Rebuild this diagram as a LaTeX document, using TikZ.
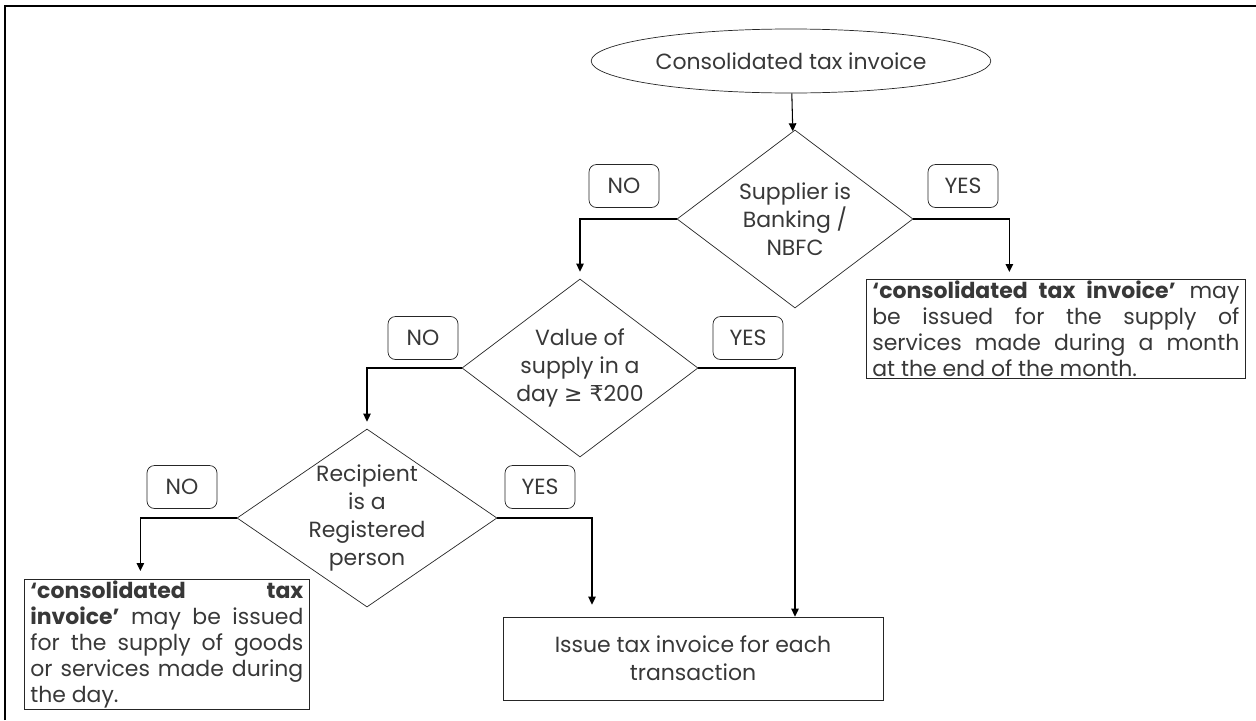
\documentclass[tikz,border=0pt]{standalone}
\usepackage{fontspec}
\setmainfont{Poppins}
\newfontfamily\symfont{DejaVu Sans}
\usetikzlibrary{arrows.meta,positioning,shapes.geometric}

\begin{document}
\begin{tikzpicture}[
      font=\fontsize{12.5}{16}\selectfont,
      every node/.style={text=black!78},
      dec/.style={draw=black!85, diamond, aspect=1.33, inner sep=-1.5mm, align=center,
                  minimum width=4.72cm, minimum height=3.56cm},
      tag/.style={draw=black!85, rounded corners=1.5mm, minimum width=1.4cm,
                  minimum height=0.86cm},
      note/.style={draw=black!85, align=justify, inner xsep=1.2mm, inner ysep=0.3mm,
                   anchor=north west, font=\fontsize{12.5}{14.8}\selectfont},
      arr/.style={-{Triangle[length=1.6mm, width=1.5mm]}, semithick}]
    \useasboundingbox (0,0) rectangle (25.12,-14.4);
    \draw[line width=1.1pt] (0.1,-14.4) |- (25.12,-0.12);
    % decisions
    \node[draw=black!85, ellipse, minimum width=7.56cm, minimum height=1.28cm] (start)
      at (15.82,-1.22) {Consolidated tax invoice};
    \node[dec] (bank) at (15.9,-4.38) {Supplier is\\Banking /\\NBFC};
    \node[dec] (value) at (11.6,-7.36) {Value of\\supply in a\\day {\symfont ≥ ₹}200};
    \node[dec, aspect=1.46, minimum width=5.2cm] (regd) at (7.34,-10.36)
      {Recipient\\is a\\Registered\\person};
    % outcomes
    \node[note, text width=7.34cm] (monthly) at (17.32,-5.58)
      {\textbf{‘consolidated tax invoice’} may\linebreak be issued for the supply of\linebreak
       services made during a month\linebreak at the end of the month.};
    \node[note, text width=5.46cm] (daily) at (0.48,-11.58)
      {\textbf{‘consolidated tax\linebreak invoice’} may be issued\linebreak for the supply of goods\linebreak
       or services made during\linebreak the day.};
    \node[draw=black!85, align=center, minimum width=7.6cm, minimum height=1.66cm] (each)
      at (13.86,-13.17) {Issue tax invoice for each\\transaction};
    % yes / no tags
    \node[tag] (no1) at (12.48,-3.72) {NO};
    \node[tag] (yes1) at (19.26,-3.72) {YES};
    \node[tag] (no2) at (8.46,-6.76) {NO};
    \node[tag] (yes2) at (14.96,-6.76) {YES};
    \node[tag] (no3) at (3.64,-9.74) {NO};
    \node[tag] (yes3) at (10.8,-9.74) {YES};
    % connectors
    \draw[arr] (start) -- (bank);
    \draw[arr, shorten >=1.4mm] (bank.west) -| (value.north);
    \draw[arr, shorten >=1.4mm] (bank.east) -| ([xshift=-0.93cm]monthly.north);
    \draw[arr, shorten >=1.4mm] (value.west) -| (regd.north);
    \draw[arr] (value.east) -| ([xshift=2.04cm]each.north);
    \draw[arr, shorten >=1.6mm] (regd.west) -| ([xshift=-0.53cm]daily.north);
    \draw[arr, shorten >=2.4mm] (regd.east) -| ([xshift=-2.02cm]each.north);
  \end{tikzpicture}
\end{document}
